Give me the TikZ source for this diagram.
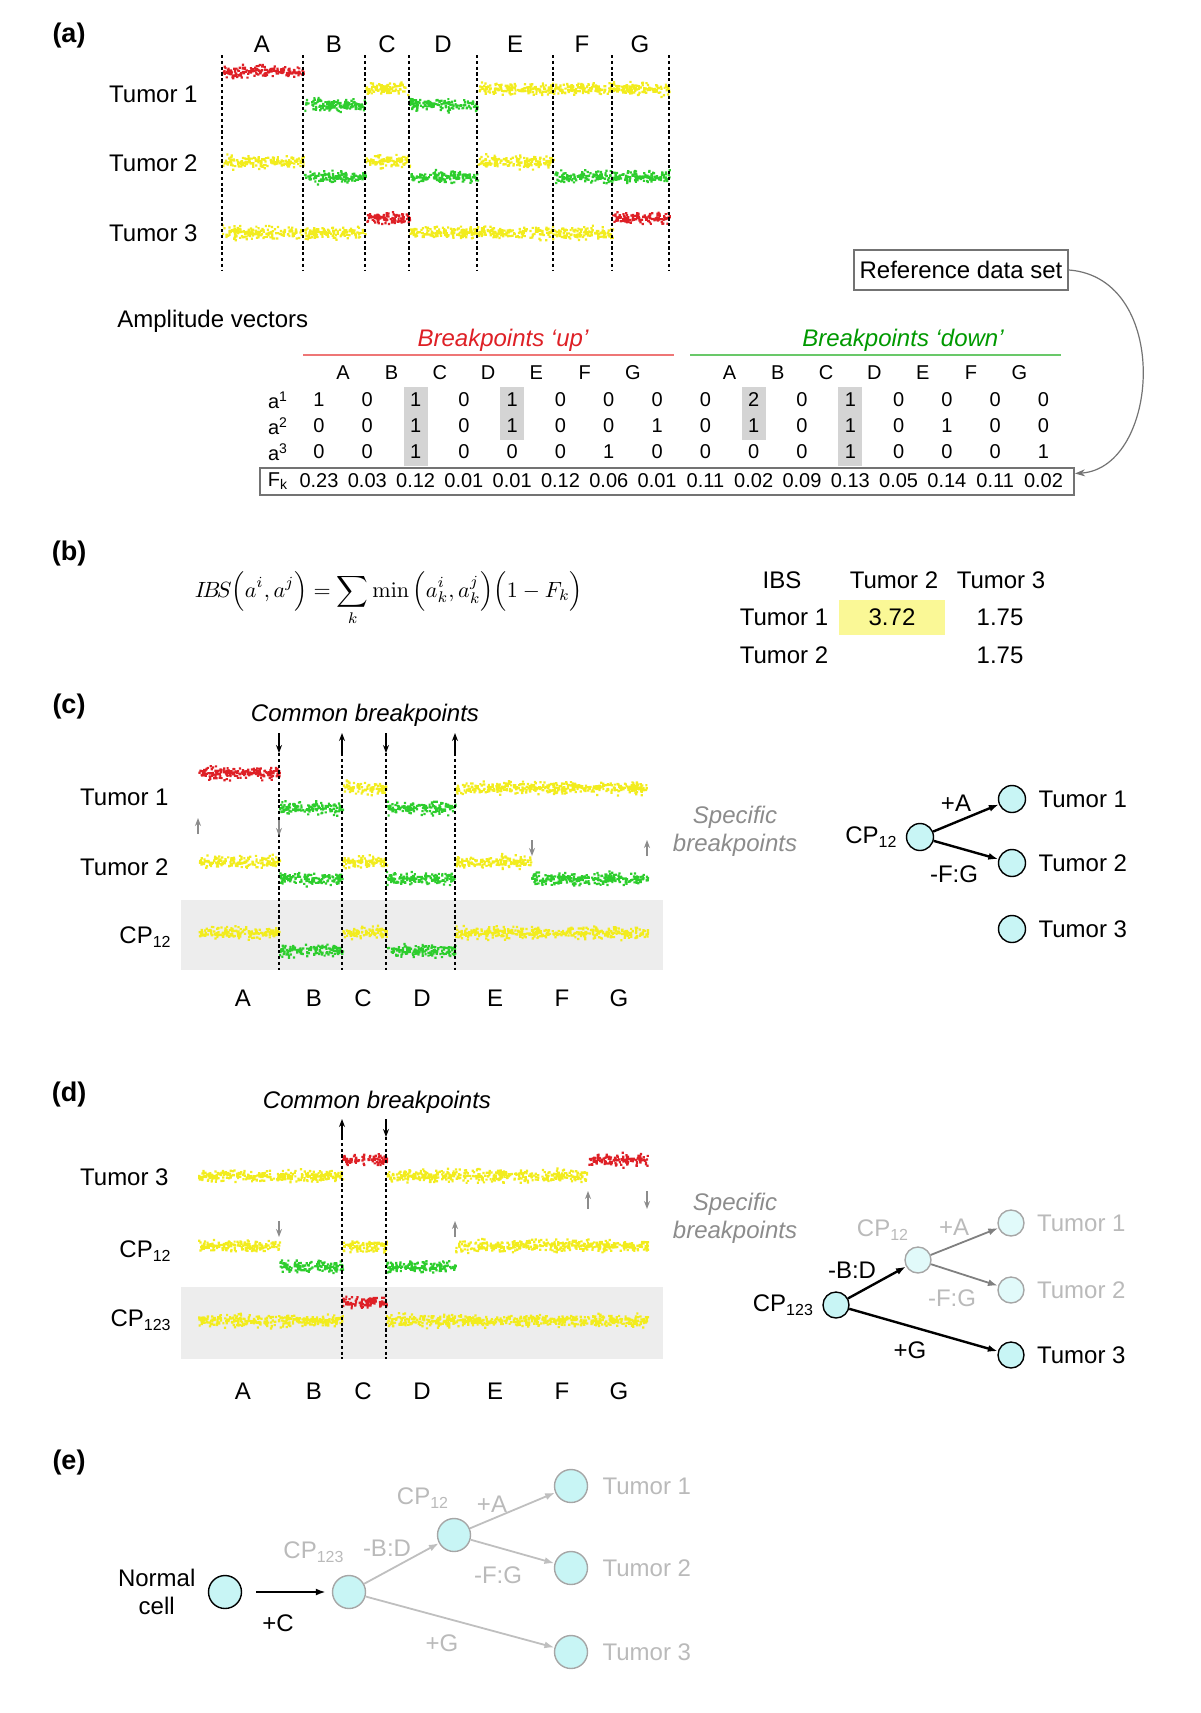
\documentclass[tikz,border=0pt]{standalone}
\usepackage[no-math]{fontspec}
\setmainfont{Liberation Sans}
\usepackage{graphicx}
\usetikzlibrary{arrows.meta,positioning}

\definecolor{cnred}{RGB}{222,32,38}
\definecolor{cngreen}{RGB}{45,205,45}
\definecolor{cnyellow}{RGB}{242,236,30}
\definecolor{cellcyan}{RGB}{200,245,245}
\definecolor{upred}{RGB}{238,118,118}
\definecolor{downgreen}{RGB}{105,200,105}
\definecolor{hlyellow}{RGB}{250,248,150}

% noisy copy-number segment: from x, to x, level, colour
\newcommand{\cnseg}[4]{%
  \pgfmathtruncatemacro{\ndots}{2.2*(#2-#1)}%
  \fill[#4] \foreach \d in {1,...,\ndots}{
    ({#1+rnd*(#2-#1)},{#3+5.6*(rnd+rnd+rnd-1.5)}) rectangle ++(1.1pt,1.1pt)
  };%
}

\begin{document}
\begin{tikzpicture}[x=0.5pt,y=-0.5pt,
    lbl/.style={font=\fontsize{12}{14}\selectfont, inner sep=0pt},
    ilbl/.style={font=\fontsize{12}{14}\selectfont\itshape, inner sep=0pt},
    tab/.style={font=\fontsize{10}{12}\selectfont, inner sep=0pt},
    panel/.style={font=\fontsize{13.5}{15}\selectfont\bfseries, inner sep=0pt},
    bpline/.style={line width=0.6pt, dash pattern=on 1.6pt off 1.3pt},
    bptip/.style={-{Stealth[length=4pt,width=3pt]}, line width=0.7pt},
    spectip/.style={bptip, draw=black!45, fill=black!45},
    clone/.style={circle, draw, line width=0.7pt, fill=cellcyan, minimum size=13.5pt, inner sep=0pt},
    fclone/.style={clone, draw=black!35, fill=cellcyan!55},
    evo/.style={-{Latex[length=5pt,width=3.5pt]}, line width=1.2pt},
    fevo/.style={evo, draw=black!50, line width=0.9pt},
    faded/.style={text=black!27},
  ]
  \useasboundingbox (0,0) rectangle (1200,1713);
  \pgfmathsetseed{7}

  % (a) profiles
  \node[panel] (pa) at (69,36) {(a)};
  \foreach \lt/\lx in {A/262,B/334,C/387,D/443,E/515,F/582,G/640}
    \node[lbl] (topa\lt) at (\lx,44) {\lt};
  \foreach \xa/\xb/\lev/\col in {
      222/303/73/cnred, 303/365/106/cngreen, 365/409/90/cnyellow,
      409/477/106/cngreen, 477/669/90/cnyellow,
      222/303/163/cnyellow, 303/365/178/cngreen, 365/409/163/cnyellow,
      409/477/178/cngreen, 477/553/163/cnyellow, 553/669/178/cngreen,
      222/365/234/cnyellow, 365/409/219/cnred, 409/612/234/cnyellow,
      612/669/219/cnred}
    {\cnseg{\xa}{\xb}{\lev}{\col}}
  \foreach \bx in {222,303,365,409,477,553,612,669}
    \draw[bpline] (\bx,55) -- (\bx,271);
  \node[lbl, anchor=east] (tum1a) at (198,94) {Tumor 1};
  \node[lbl, anchor=east] (tum2a) at (198,163) {Tumor 2};
  \node[lbl, anchor=east] (tum3a) at (198,233) {Tumor 3};

  % amplitude vectors
  \node[lbl, anchor=west] (ampvec) at (117,321) {Amplitude vectors};
  \node[lbl, draw=black!55, line width=1pt, minimum width=107pt, minimum height=20pt]
    (refset) at (961,270) {Reference data set};
  \draw[upred, line width=1.3pt] (303,355) -- (674,355);
  \draw[downgreen, line width=1.3pt] (690,355) -- (1061,355);
  \node[ilbl, text=cnred] (bpup) at (503,340) {Breakpoints ‘up’};
  \node[ilbl, text=green!60!black] (bpdown) at (903,340) {Breakpoints ‘down’};
  \foreach \cl/\rows in {3/3,5/2,10/2,12/3}
    \fill[black!17] ({319+48.3*(\cl-1)-12},387) rectangle ({319+48.3*(\cl-1)+12},{387+26*\rows+1});
  \foreach \lt [count=\k] in {A,...,G} {
    \node[tab] (uplt\k) at ({319+48.3*(\k-0.5)},373) {\lt};
    \node[tab] (dnlt\k) at ({319+48.3*(\k+7.5)},373) {\lt};
  }
  \foreach \rw/\vals in {1/{1,0,1,0,1,0,0,0,0,2,0,1,0,0,0,0},
                         2/{0,0,1,0,1,0,0,1,0,1,0,1,0,1,0,0},
                         3/{0,0,1,0,0,0,1,0,0,0,0,1,0,0,0,1}} {
    \node[tab] (arow\rw) at (278,{374+26*\rw}) {a\textsuperscript{\rw}};
    \foreach \val [count=\cl] in \vals
      \node[tab] (amp\rw-\cl) at ({319+48.3*(\cl-1)},{374+26*\rw}) {\val};
  }
  \node[draw=black!55, line width=1pt, minimum width=407pt, minimum height=13.5pt]
    (fkbox) at (667,481.5) {};
  \node[tab] (fklbl) at (278,481) {F\textsubscript{k}};
  \foreach \fv [count=\cl] in {0.23,0.03,0.12,0.01,0.01,0.12,0.06,0.01,
                               0.11,0.02,0.09,0.13,0.05,0.14,0.11,0.02}
    \node[tab] (fk\cl) at ({319+48.3*(\cl-1)},481) {\fv};
  \draw[black!55, line width=0.6pt, -{Stealth[length=5pt,width=3.5pt]}]
    (refset.east) .. controls (1172,278) and (1160,468) .. ([yshift=4pt]fkbox.east);

  % (b) similarity
  \node[panel] (pb) at (69,554) {(b)};
  \node[anchor=base] (ibsform) at (389,597) {\resizebox{194pt}{!}{$\displaystyle
    I\!B\!S\Bigl(a^{i},a^{j}\Bigr)=\sum_{k}\min\,\Bigl(a^{i}_{k},a^{j}_{k}\Bigr)\Bigl(1-F_{k}\Bigr)$}};
  \node[lbl, fill=hlyellow, minimum width=53pt, minimum height=17.5pt] (ibs12) at (892,617.5) {3.72};
  \node[lbl] (ibshd) at (782,580) {IBS};
  \node[lbl] (ibsc2) at (894,580) {Tumor 2};
  \node[lbl] (ibsc3) at (1001,580) {Tumor 3};
  \node[lbl] (ibsr1) at (784,617) {Tumor 1};
  \node[lbl] (ibsr2) at (784,655) {Tumor 2};
  \node[lbl] (ibs13) at (1000,617) {1.75};
  \node[lbl] (ibs23) at (1000,655) {1.75};

  % (c) tumours 1 and 2
  \node[panel] (pc) at (69,707) {(c)};
  \node[ilbl] (commc) at (365,715) {Common breakpoints};
  \fill[black!7] (181,900) rectangle (663,970);
  \foreach \xa/\xb/\lev/\col in {
      198/279/774/cnred, 279/342/809/cngreen, 342/386/789/cnyellow,
      386/455/809/cngreen, 455/647/789/cnyellow,
      198/279/863/cnyellow, 279/342/880/cngreen, 342/386/863/cnyellow,
      386/455/880/cngreen, 455/531/863/cnyellow, 531/647/880/cngreen,
      198/279/934/cnyellow, 279/342/952/cngreen, 342/386/934/cnyellow,
      386/455/952/cngreen, 455/647/934/cnyellow}
    {\cnseg{\xa}{\xb}{\lev}{\col}}
  \foreach \bx in {279,342,386,455}
    \draw[bpline] (\bx,753) -- (\bx,970);
  \foreach \bx in {279,386} \draw[bptip] (\bx,733) -- (\bx,753);
  \foreach \bx in {342,455} \draw[bptip] (\bx,753) -- (\bx,733);
  \draw[spectip] (198,834) -- (198,818);
  \draw[spectip] (279,820) -- (279,836);
  \draw[spectip] (532,840) -- (532,856);
  \draw[spectip] (647,856) -- (647,840);
  \node[lbl, anchor=east] (tum1c) at (169,797) {Tumor 1};
  \node[lbl, anchor=east] (tum2c) at (169,867) {Tumor 2};
  \node[lbl, anchor=east] (cp12c) at (172,937) {CP\textsubscript{12}};
  \foreach \lt/\lx in {A/243,B/314,C/363,D/422,E/495,F/562,G/619}
    \node[lbl] (botc\lt) at (\lx,998) {\lt};
  \node[ilbl, text=black!45, align=center] (specc) at (735,831) {Specific\\breakpoints};

  \node[clone] (ncp12c) at (920,837) {};
  \node[clone] (nt1c) at (1012,799) {};
  \node[clone] (nt2c) at (1012,863) {};
  \node[clone] (nt3c) at (1012,929) {};
  \node[lbl, left=4pt of ncp12c] (lcp12c) {CP\textsubscript{12}};
  \node[lbl, right=6pt of nt1c] (lt1c) {Tumor 1};
  \node[lbl, right=6pt of nt2c] (lt2c) {Tumor 2};
  \node[lbl, right=6pt of nt3c] (lt3c) {Tumor 3};
  \draw[evo] (ncp12c) -- (nt1c);
  \draw[evo] (ncp12c) -- (nt2c);
  \node[lbl] (eAc) at (956,803) {+A};
  \node[lbl] (eFGc) at (954,874) {-F:G};

  % (d) tumour 3 and CP12
  \node[panel] (pd) at (69,1095) {(d)};
  \node[ilbl] (commd) at (377,1102) {Common breakpoints};
  \fill[black!7] (181,1287) rectangle (663,1359);
  \foreach \xa/\xb/\lev/\col in {
      198/342/1177/cnyellow, 342/386/1161/cnred, 386/588/1177/cnyellow,
      588/647/1161/cnred,
      198/279/1247/cnyellow, 279/342/1268/cngreen, 342/386/1247/cnyellow,
      386/455/1268/cngreen, 455/647/1247/cnyellow,
      198/342/1322/cnyellow, 342/386/1304/cnred, 386/647/1322/cnyellow}
    {\cnseg{\xa}{\xb}{\lev}{\col}}
  \foreach \bx in {342,386}
    \draw[bpline] (\bx,1137) -- (\bx,1359);
  \draw[bptip] (342,1137) -- (342,1119);
  \draw[bptip] (386,1119) -- (386,1137);
  \draw[spectip] (588,1209) -- (588,1191);
  \draw[spectip] (647,1191) -- (647,1209);
  \draw[spectip] (279,1221) -- (279,1237);
  \draw[spectip] (455,1237) -- (455,1221);
  \node[lbl, anchor=east] (tum3d) at (169,1177) {Tumor 3};
  \node[lbl, anchor=east] (cp12d) at (172,1251) {CP\textsubscript{12}};
  \node[lbl, anchor=east] (cp123d) at (172,1320) {CP\textsubscript{123}};
  \foreach \lt/\lx in {A/243,B/314,C/363,D/422,E/495,F/562,G/619}
    \node[lbl] (botd\lt) at (\lx,1391) {\lt};
  \node[ilbl, text=black!45, align=center] (specd) at (735,1218) {Specific\\breakpoints};

  \node[clone, minimum size=13pt] (ncp123d) at (836,1305) {};
  \node[fclone, minimum size=13pt] (ncp12d) at (918,1260) {};
  \node[fclone, minimum size=13pt] (nt1d) at (1011,1223) {};
  \node[fclone, minimum size=13pt] (nt2d) at (1011,1290) {};
  \node[clone, minimum size=13pt] (nt3d) at (1011,1355) {};
  \node[lbl, left=4pt of ncp123d] (lcp123d) {CP\textsubscript{123}};
  \node[lbl, faded] (lcp12d) at (883,1230) {CP\textsubscript{12}};
  \node[lbl, faded, right=6pt of nt1d] (lt1d) {Tumor 1};
  \node[lbl, faded, right=6pt of nt2d] (lt2d) {Tumor 2};
  \node[lbl, right=6pt of nt3d] (lt3d) {Tumor 3};
  \draw[evo] (ncp123d) -- (ncp12d);
  \draw[evo] (ncp123d) -- (nt3d);
  \draw[fevo] (ncp12d) -- (nt1d);
  \draw[fevo] (ncp12d) -- (nt2d);
  \node[lbl] (eBDd) at (852,1270) {-B:D};
  \node[lbl] (eGd) at (910,1350) {+G};
  \node[lbl, faded] (eAd) at (954,1227) {+A};
  \node[lbl, faded] (eFGd) at (952,1298) {-F:G};

  % (e) whole tree
  \node[panel] (pe) at (69,1462) {(e)};
  \node[clone, minimum size=16.5pt] (normal) at (225,1592) {};
  \node[clone, draw=black!35, minimum size=16.5pt] (ncp123e) at (349,1592) {};
  \node[clone, draw=black!35, minimum size=16.5pt] (ncp12e) at (454,1535) {};
  \node[clone, draw=black!35, minimum size=16.5pt] (nt1e) at (571,1486) {};
  \node[clone, draw=black!35, minimum size=16.5pt] (nt2e) at (571,1568) {};
  \node[clone, draw=black!35, minimum size=16.5pt] (nt3e) at (571,1652) {};
  \node[lbl, align=center, left=6pt of normal] (lnormal) {Normal\\cell};
  \node[lbl, faded] (lcp123e) at (314,1552) {CP\textsubscript{123}};
  \node[lbl, faded] (lcp12e) at (423,1498) {CP\textsubscript{12}};
  \node[lbl, faded, right=7pt of nt1e] (lt1e) {Tumor 1};
  \node[lbl, faded, right=7pt of nt2e] (lt2e) {Tumor 2};
  \node[lbl, faded, right=7pt of nt3e] (lt3e) {Tumor 3};
  \draw[evo, shorten <=7pt, shorten >=3pt] (normal) -- (ncp123e);
  \draw[fevo, draw=black!25] (ncp123e) -- (ncp12e);
  \draw[fevo, draw=black!25] (ncp123e) -- (nt3e);
  \draw[fevo, draw=black!25] (ncp12e) -- (nt1e);
  \draw[fevo, draw=black!25] (ncp12e) -- (nt2e);
  \node[lbl] (eCe) at (278,1623) {+C};
  \node[lbl, faded] (eBDe) at (387,1548) {-B:D};
  \node[lbl, faded] (eAe) at (492,1504) {+A};
  \node[lbl, faded] (eFGe) at (498,1575) {-F:G};
  \node[lbl, faded] (eGe) at (442,1643) {+G};
\end{tikzpicture}
\end{document}
